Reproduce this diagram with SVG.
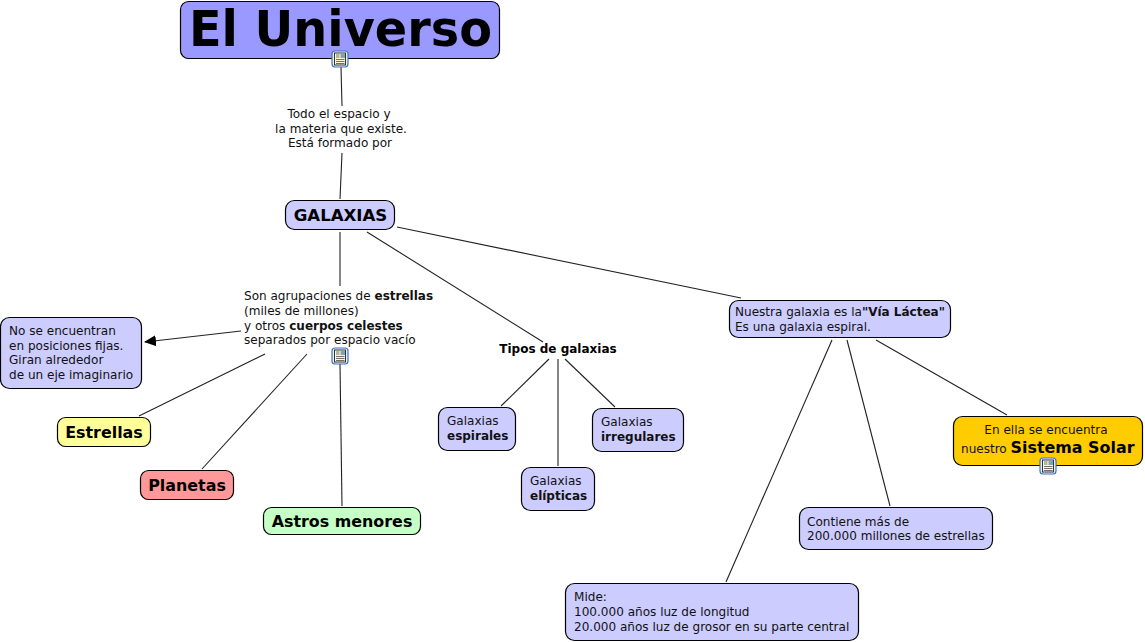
<svg xmlns="http://www.w3.org/2000/svg" xmlns:xlink="http://www.w3.org/1999/xlink" width="1145" height="642" viewBox="0 0 1145 642">
<style>
text{font-family:"DejaVu Sans",Verdana,sans-serif;font-size:12.05px;fill:#111}
.b{font-weight:bold;font-size:12px}
.big{font-weight:bold;font-size:15.9px;fill:#000}
.box{stroke:#000;stroke-width:1.2}
.c line{stroke:#222;stroke-width:1.1}
</style>
<defs>
<marker id="arrow" markerUnits="userSpaceOnUse" markerWidth="12" markerHeight="12" refX="11" refY="6" orient="auto"><path d="M0 0.5 L12 6 L0 11.5Z" fill="#000"/></marker>
<g id="icon">
<rect x="-8" y="-8" width="16" height="16" rx="3" fill="#e6eefa" stroke="#3f74c4" stroke-width="1.2"/>
<rect x="-5.5" y="-6" width="11" height="12" fill="#fdf8d8" stroke="#222" stroke-width=".9"/>
<rect x="0.5" y="-5.5" width="4.5" height="4.5" fill="#7fa3b5"/>
<path d="M-4-4H-.5M-4-2H-.5M-4 .5H4.5M-4 2.5H4.5M-4 4.5H4.5" stroke="#333" stroke-width=".7"/>
</g>
</defs>
<rect width="1145" height="642" fill="#fff"/>
<g class="c" id="connectors">
<line x1="341" y1="67" x2="342" y2="106"/>
<line x1="342" y1="153" x2="340" y2="199"/>
<line x1="340" y1="232" x2="340" y2="286"/>
<line x1="367" y1="232" x2="543" y2="342"/>
<line x1="397" y1="227" x2="741" y2="298"/>
<line x1="241" y1="331" x2="145" y2="342" marker-end="url(#arrow)"/>
<line x1="265" y1="354" x2="139" y2="416"/>
<line x1="307" y1="354" x2="202" y2="469"/>
<line x1="340" y1="364" x2="342" y2="506"/>
<line x1="549" y1="359" x2="501" y2="406"/>
<line x1="558" y1="359" x2="558" y2="466"/>
<line x1="565" y1="359" x2="615" y2="407"/>
<line x1="832" y1="340" x2="726" y2="582"/>
<line x1="847" y1="340" x2="890" y2="506"/>
<line x1="876" y1="340" x2="1007" y2="415"/>
</g>
<g id="n-universo">
<rect class="box" x="180.5" y="1.5" width="319" height="57" rx="8" fill="#99f"/>
<text x="189" y="46" textLength="303" lengthAdjust="spacingAndGlyphs" style="font-size:50px;font-weight:bold;fill:#000">El Universo</text>
<use xlink:href="#icon" x="340" y="59"/>
</g>
<g id="l-todo">
<text x="339" y="118" text-anchor="middle">Todo el espacio y</text>
<text x="341" y="133" text-anchor="middle">la materia que existe.</text>
<text x="340" y="147" text-anchor="middle">Está formado por</text>
</g>
<g id="n-galaxias">
<rect class="box" x="285.5" y="200.5" width="109" height="29" rx="9" fill="#ccf"/>
<text x="340.5" y="221" text-anchor="middle" class="big" style="font-size:16.6px">GALAXIAS</text>
</g>
<g id="l-agrup">
<text x="244" y="300">Son agrupaciones de <tspan class="b">estrellas</tspan></text>
<text x="244" y="315">(miles de millones)</text>
<text x="244" y="330">y otros <tspan class="b">cuerpos celestes</tspan></text>
<text x="244" y="344">separados por espacio vacío</text>
<use xlink:href="#icon" x="340" y="356"/>
</g>
<g id="n-fijas">
<rect class="box" x="0.5" y="317.5" width="141" height="71" rx="9" fill="#ccf"/>
<text x="9" y="335">No se encuentran</text>
<text x="9" y="350">en posiciones fijas.</text>
<text x="9" y="364">Giran alrededor</text>
<text x="9" y="379">de un eje imaginario</text>
</g>
<g id="n-estrellas">
<rect class="box" x="57.5" y="417.5" width="93" height="29" rx="8" fill="#ff9"/>
<text x="104" y="438" text-anchor="middle" class="big">Estrellas</text>
</g>
<g id="n-planetas">
<rect class="box" x="140.5" y="470.5" width="93" height="29" rx="8" fill="#f99"/>
<text x="187" y="491" text-anchor="middle" class="big">Planetas</text>
</g>
<g id="n-astros">
<rect class="box" x="263.5" y="507.5" width="157" height="27" rx="8" fill="#c6ffc6"/>
<text x="342" y="527" text-anchor="middle" class="big">Astros menores</text>
</g>
<g id="l-tipos">
<text x="558" y="353" text-anchor="middle" class="b" style="fill:#000">Tipos de galaxias</text>
</g>
<g id="n-espirales">
<rect class="box" x="438.5" y="407.5" width="77" height="43" rx="9" fill="#ccf"/>
<text x="447" y="425">Galaxias</text>
<text x="447" y="440" class="b">espirales</text>
</g>
<g id="n-elipticas">
<rect class="box" x="521.5" y="467.5" width="73" height="43" rx="9" fill="#ccf"/>
<text x="530" y="485">Galaxias</text>
<text x="530" y="500" class="b">elípticas</text>
</g>
<g id="n-irregulares">
<rect class="box" x="592.5" y="408.5" width="91" height="43" rx="9" fill="#ccf"/>
<text x="601" y="426">Galaxias</text>
<text x="601" y="441" class="b">irregulares</text>
</g>
<g id="n-lactea">
<rect class="box" x="729.5" y="300.5" width="221" height="37" rx="9" fill="#ccf"/>
<text x="735" y="316">Nuestra galaxia es la<tspan class="b">"Vía Láctea"</tspan></text>
<text x="735" y="331">Es una galaxia espiral.</text>
</g>
<g id="n-solar">
<rect class="box" x="953.5" y="416.5" width="189" height="49" rx="9" fill="#fc0"/>
<text x="1046" y="434" text-anchor="middle">En ella se encuentra</text>
<text x="961" y="453">nuestro <tspan class="big">Sistema Solar</tspan></text>
<use xlink:href="#icon" x="1048" y="466"/>
</g>
<g id="n-contiene">
<rect class="box" x="799.5" y="507.5" width="193" height="42" rx="9" fill="#ccf"/>
<text x="807" y="526">Contiene más de</text>
<text x="807" y="540">200.000 millones de estrellas</text>
</g>
<g id="n-mide">
<rect class="box" x="565.5" y="583.5" width="293" height="57" rx="9" fill="#ccf"/>
<text x="574" y="601">Mide:</text>
<text x="574" y="616">100.000 años luz de longitud</text>
<text x="574" y="631">20.000 años luz de grosor en su parte central</text>
</g>
</svg>
